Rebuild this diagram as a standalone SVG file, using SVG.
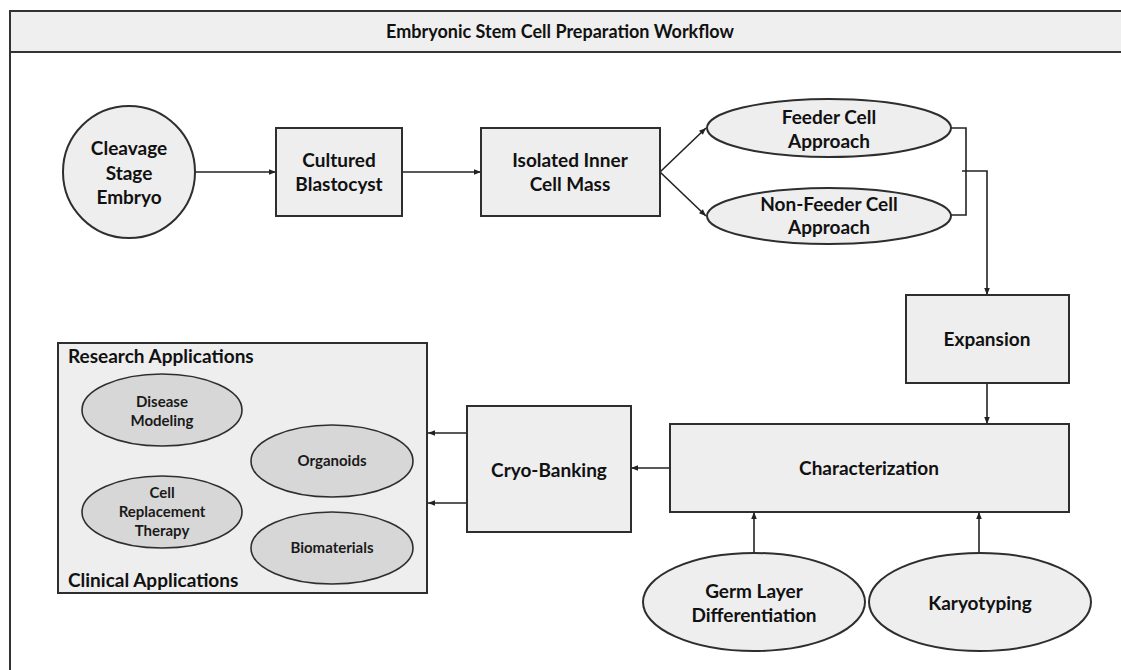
<svg xmlns="http://www.w3.org/2000/svg" width="1121" height="670" viewBox="0 0 1121 670">
<defs>
<marker id="ah" viewBox="0 0 10 10" refX="10" refY="5" markerWidth="8" markerHeight="7" orient="auto" markerUnits="userSpaceOnUse"><path d="M0,1 L10,5 L0,9 z" fill="#222"/></marker>
<style>
.n{fill:#eeeeee;stroke:#2e2e2e;stroke-width:2}
.s{fill:#d7d7d7;stroke:#2e2e2e;stroke-width:1.6}
.t{font-family:Lato,"Liberation Sans",sans-serif;font-weight:bold;font-size:19px;fill:#111;text-anchor:middle}
.ts{font-family:Lato,"Liberation Sans",sans-serif;font-weight:bold;font-size:15px;fill:#1a1a1a;text-anchor:middle}
.lbl{font-family:Lato,"Liberation Sans",sans-serif;font-weight:bold;font-size:19px;fill:#111}
.c{fill:none;stroke:#222;stroke-width:1.6}
</style>
</defs>
<rect width="1121" height="670" fill="#fff"/>
<g id="frame">
<rect x="10" y="11" width="1130" height="700" fill="#fff" stroke="#333" stroke-width="2"/>
<rect x="10" y="11" width="1130" height="41" fill="#efefef" stroke="#333" stroke-width="2"/>
<text x="560" y="38" style="font-family:Lato,'Liberation Sans',sans-serif;font-weight:bold;font-size:18px;fill:#111;text-anchor:middle">Embryonic Stem Cell Preparation Workflow</text>
</g>
<g id="connectors">
<line class="c" x1="195" y1="172" x2="276" y2="172" marker-end="url(#ah)"/>
<line class="c" x1="402" y1="172" x2="481" y2="172" marker-end="url(#ah)"/>
<line class="c" x1="660" y1="172" x2="706" y2="128" marker-end="url(#ah)"/>
<line class="c" x1="660" y1="172" x2="706" y2="216" marker-end="url(#ah)"/>
<path class="c" d="M951,128 H966 V215 H951 M962,171 H987 V295" marker-end="url(#ah)"/>
<line class="c" x1="987" y1="383" x2="987" y2="424" marker-end="url(#ah)"/>
<line class="c" x1="670" y1="468" x2="631" y2="468" marker-end="url(#ah)"/>
<line class="c" x1="467" y1="433" x2="428" y2="433" marker-end="url(#ah)"/>
<line class="c" x1="467" y1="503" x2="428" y2="503" marker-end="url(#ah)"/>
<line class="c" x1="754" y1="553" x2="754" y2="512" marker-end="url(#ah)"/>
<line class="c" x1="979" y1="553" x2="979" y2="512" marker-end="url(#ah)"/>
</g>
<g id="cleavage"><circle class="n" cx="129" cy="172" r="66"/><text class="t" x="129" y="155">Cleavage</text><text class="t" x="129" y="180">Stage</text><text class="t" x="129" y="204">Embryo</text></g>
<g id="cultured"><rect class="n" x="276" y="128" width="126" height="88"/><text class="t" x="339" y="167">Cultured</text><text class="t" x="339" y="191">Blastocyst</text></g>
<g id="icm"><rect class="n" x="481" y="128" width="179" height="88"/><text class="t" x="570" y="167">Isolated Inner</text><text class="t" x="570" y="191">Cell Mass</text></g>
<g id="feeder"><ellipse class="n" cx="829" cy="128" rx="122" ry="29"/><text class="t" x="829" y="124">Feeder Cell</text><text class="t" x="829" y="148">Approach</text></g>
<g id="nonfeeder"><ellipse class="n" cx="829" cy="216" rx="122" ry="28"/><text class="t" x="829" y="211">Non-Feeder Cell</text><text class="t" x="829" y="234">Approach</text></g>
<g id="expansion"><rect class="n" x="906" y="295" width="163" height="88"/><text class="t" x="987" y="346">Expansion</text></g>
<g id="characterization"><rect class="n" x="670" y="424" width="399" height="88"/><text class="t" x="869" y="475">Characterization</text></g>
<g id="cryo"><rect class="n" x="467" y="406" width="164" height="126"/><text class="t" x="549" y="477">Cryo-Banking</text></g>
<g id="germ"><ellipse class="n" cx="754" cy="602" rx="111" ry="49"/><text class="t" x="754" y="598">Germ Layer</text><text class="t" x="754" y="622">Differentiation</text></g>
<g id="karyo"><ellipse class="n" cx="980" cy="602" rx="111" ry="49"/><text class="t" x="980" y="610">Karyotyping</text></g>
<g id="applications">
<rect class="n" x="58" y="343" width="369" height="250"/>
<text class="lbl" x="68" y="363">Research Applications</text>
<text class="lbl" x="68" y="587">Clinical Applications</text>
<g id="disease"><ellipse class="s" cx="162" cy="410" rx="80" ry="36"/><text class="ts" x="162" y="407">Disease</text><text class="ts" x="162" y="426">Modeling</text></g>
<g id="organoids"><ellipse class="s" cx="332" cy="461" rx="81" ry="36"/><text class="ts" x="332" y="466">Organoids</text></g>
<g id="cellrep"><ellipse class="s" cx="162" cy="512" rx="80" ry="36"/><text class="ts" x="162" y="498">Cell</text><text class="ts" x="162" y="517">Replacement</text><text class="ts" x="162" y="536">Therapy</text></g>
<g id="biomaterials"><ellipse class="s" cx="332" cy="548" rx="81" ry="36"/><text class="ts" x="332" y="553">Biomaterials</text></g>
</g>
</svg>
